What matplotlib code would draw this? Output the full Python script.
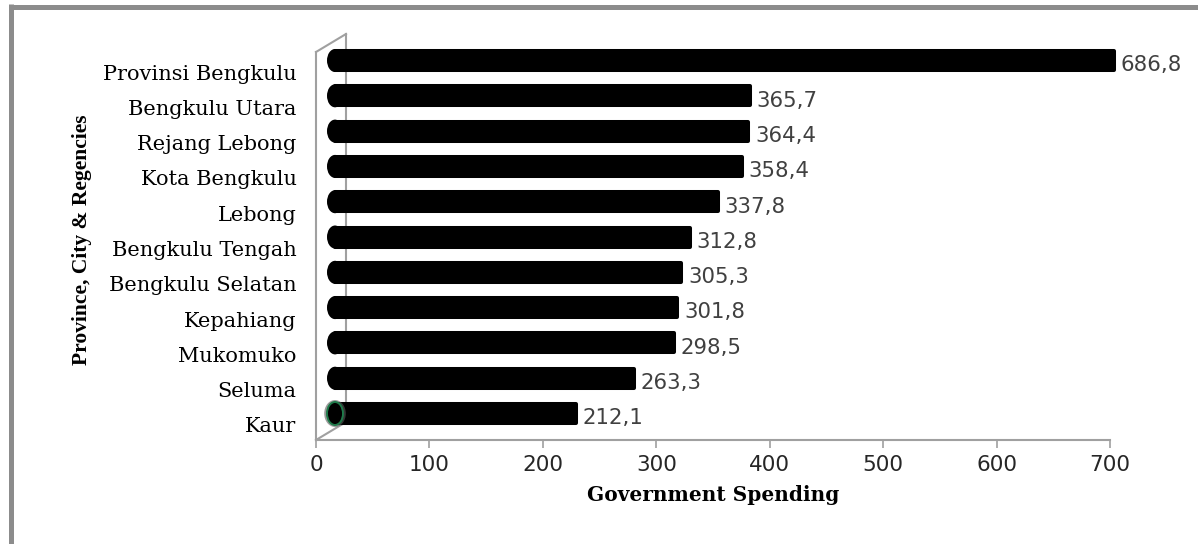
"""
Government spending by province, city and regency (Bengkulu), Excel-style 3D bar chart.
"""
import matplotlib
matplotlib.use("Agg")
import matplotlib.pyplot as plt
import matplotlib.transforms as mtransforms
from matplotlib.lines import Line2D
from matplotlib.patches import Ellipse

# data (bottom to top)
regions = ['Kaur', 'Seluma', 'Mukomuko', 'Kepahiang', 'Bengkulu Selatan',
           'Bengkulu Tengah', 'Lebong', 'Kota Bengkulu', 'Rejang Lebong',
           'Bengkulu Utara', 'Provinsi Bengkulu']
spending = [212.1, 263.3, 298.5, 301.8, 305.3, 312.8, 337.8, 358.4, 364.4,
            365.7, 686.8]
x_ticks = [0, 100, 200, 300, 400, 500, 600, 700]

W, H, DPI = 1198, 544, 100
AX_L, AX_R, AX_T, AX_B = 316, 1110, 52, 440   # pixel box of the front plane

fig = plt.figure(figsize=(W / DPI, H / DPI), dpi=DPI)
fig.patch.set_facecolor('white')

# outer frame (top + left only visible)
fig.add_artist(Line2D([10.5 / W, 1], [1 - 6.5 / H, 1 - 6.5 / H],
                      color='#8c8c8c', lw=3.6, solid_capstyle='butt'))
fig.add_artist(Line2D([10.5 / W, 10.5 / W], [0, 1 - 4 / H],
                      color='#8c8c8c', lw=3.6, solid_capstyle='butt'))

ax = fig.add_axes([AX_L / W, 1 - AX_B / H, (AX_R - AX_L) / W, (AX_B - AX_T) / H])
ax.set_xlim(0, 700)
ax.set_ylim(-0.425, 10.567)
ax.set_facecolor('none')

wall = '#a0a0a0'
for s in ['top', 'right']:
    ax.spines[s].set_visible(False)
for s in ['left', 'bottom']:
    ax.spines[s].set_color(wall)
    ax.spines[s].set_linewidth(1.5)

# depth of the 3D walls
depth = mtransforms.ScaledTranslation(30 / DPI, 18 / DPI, fig.dpi_scale_trans)
back = ax.transAxes + depth
ax.add_line(Line2D([0, 0], [0, 1], transform=back, color=wall, lw=1.5, clip_on=False, zorder=1))
ax.add_line(Line2D([0, 30 / (AX_R - AX_L)], [1, 1 + 18 / (AX_B - AX_T)],
                   transform=ax.transAxes, color=wall, lw=1.5, clip_on=False, zorder=1))
ax.add_line(Line2D([0, 30 / (AX_R - AX_L)], [0, 18 / (AX_B - AX_T)],
                   transform=ax.transAxes, color=wall, lw=1.5, clip_on=False, zorder=1))

# bars, shifted into the middle of the depth
shift = mtransforms.ScaledTranslation(19 / DPI, 11.5 / DPI, fig.dpi_scale_trans)
bar_tr = ax.transData + shift
ypos = list(range(len(regions)))
bar_h = 19 / 35.3
bars = ax.barh(ypos, spending, height=bar_h, color='black', edgecolor='black',
               linewidth=2.9, transform=bar_tr, zorder=3, clip_on=False)
for b in bars:
    b.set_joinstyle('round')

# rounded left caps (Kaur one carries the green selection glint)
cap_w = 16 / ((AX_R - AX_L) / 700)
for y in ypos:
    if y == 0:
        ax.add_patch(Ellipse((0, y), cap_w * 1.35, 27 / 35.3, transform=bar_tr,
                             facecolor='#5a5a5a', edgecolor='none', alpha=0.6,
                             zorder=3.5, clip_on=False))
    ax.add_patch(Ellipse((0, y), cap_w, 23 / 35.3, transform=bar_tr,
                         facecolor='black', edgecolor='#1f7a4a' if y == 0 else 'black',
                         lw=1.4 if y == 0 else 0, zorder=4, clip_on=False))

# value labels with comma decimal
for y, v in zip(ypos, spending):
    ax.annotate(f'{v:.1f}'.replace('.', ','), (v, y), xytext=(18.5, 4.8),
                textcoords='offset points', ha='left', va='center',
                fontsize=15.3, color='#404040', family='DejaVu Sans')

ax.set_yticks(ypos)
ax.set_yticklabels(regions, family='DejaVu Serif', fontsize=15, color='black')
ax.tick_params(axis='y', length=0, pad=14)
ax.set_xticks(x_ticks)
ax.set_xticklabels([str(t) for t in x_ticks], family='DejaVu Sans', fontsize=15.5,
                   color='#262626')
ax.tick_params(axis='x', length=5.8, width=1.2, color=wall, pad=5)

ax.set_xlabel('Government Spending', family='DejaVu Serif', fontweight='bold',
              fontsize=14.5, labelpad=7)
ax.set_ylabel('Province, City & Regencies', family='Liberation Serif',
              fontweight='bold', fontsize=15.5)
ax.yaxis.set_label_coords(-0.2947, 0.5155)
ax.yaxis.label.set_va('center')

fig.savefig('out.png', dpi=DPI)
plt.close(fig)
